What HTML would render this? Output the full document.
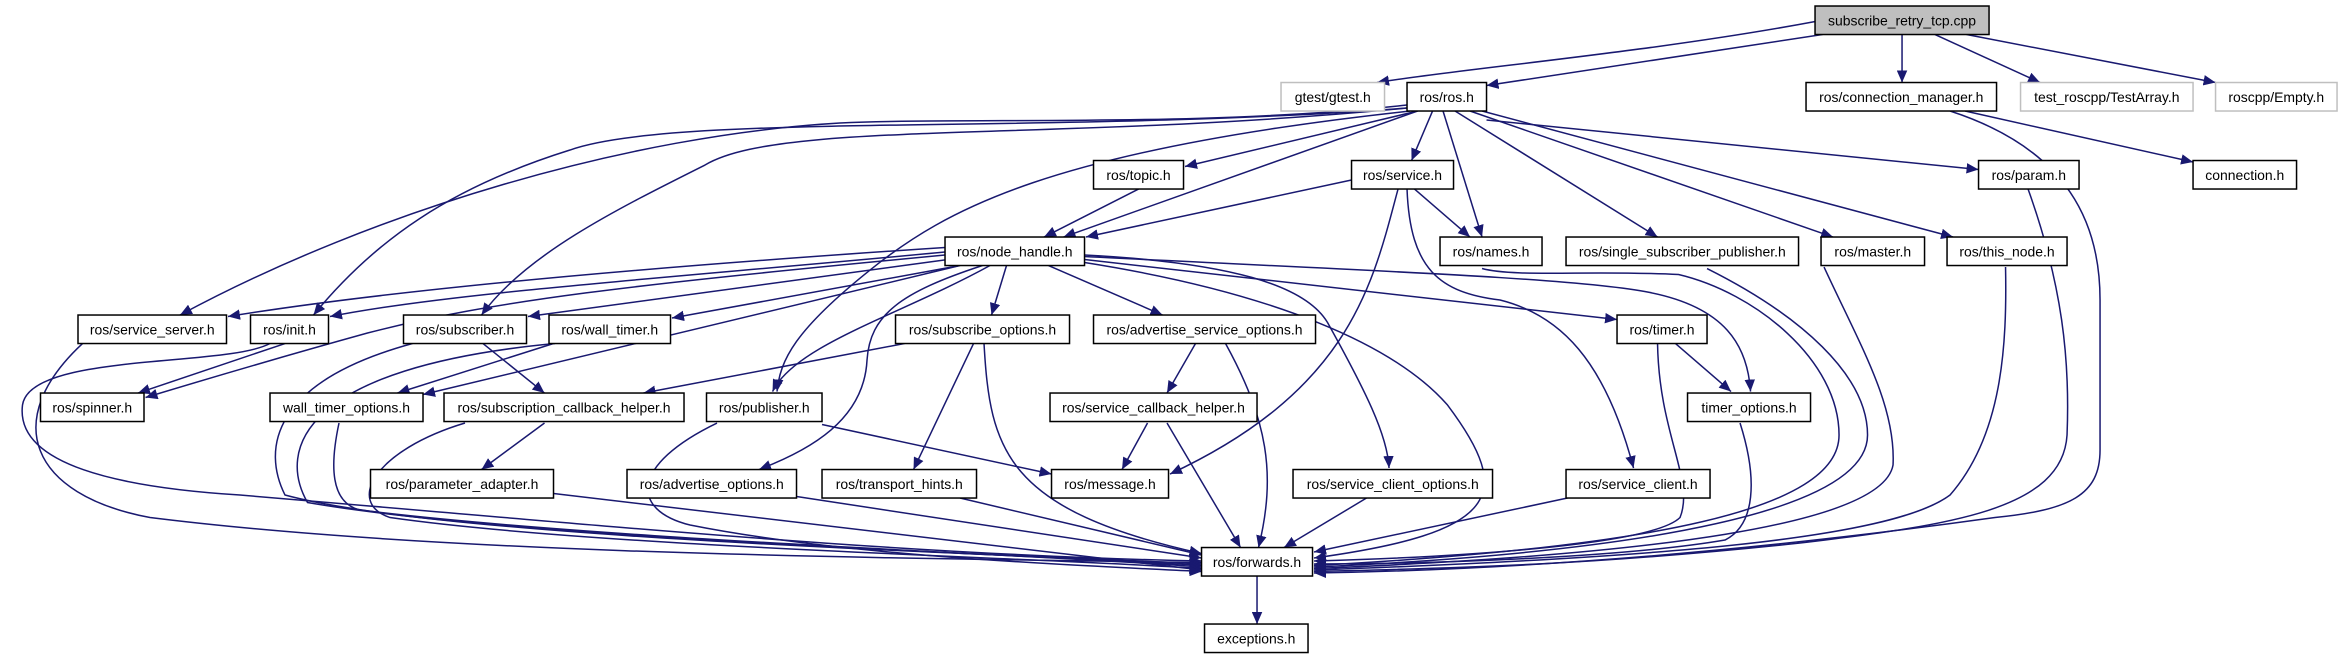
<!DOCTYPE html>
<html><head><meta charset="utf-8"><style>
html,body{margin:0;padding:0;background:#fff;}
svg{display:block}
text{font-family:"Liberation Sans",sans-serif;font-size:9.3px;text-anchor:middle;fill:#000}
.e{fill:none;stroke:#191970;stroke-width:1}
.n{fill:#fff;stroke:#000;stroke-width:1}
.g{fill:#fff;stroke:#bfbfbf;stroke-width:1}
</style></head><body>
<svg width="2342" height="659" viewBox="0 0 1561.3 439.3" xmlns="http://www.w3.org/2000/svg">
<defs><marker id="a" markerUnits="userSpaceOnUse" markerWidth="9" markerHeight="7" refX="8" refY="3.5" orient="auto"><polygon points="0,0 8,3.5 0,7" fill="#191970"/></marker></defs>
<g class="e" marker-end="url(#a)">
<path d="M1212,14 C1100,35 980,45 918,55"/>
<path d="M1215,23 L991,57"/>
<path d="M1268,23 L1268,55"/>
<path d="M1290,23 L1360,55"/>
<path d="M1311,23 L1477,55"/>
<path d="M945,74 L790,111"/>
<path d="M955,74 L941,107"/>
<path d="M962,74 L988,158"/>
<path d="M943,126 L980,158"/>
<path d="M970,74 L1105,158"/>
<path d="M980,74 L1222,158"/>
<path d="M988,74 L1302,158"/>
<path d="M991,80 L1319,113"/>
<path d="M945,74 L709,158"/>
<path d="M901,120 L724,158"/>
<path d="M759,126 L696,158"/>
<path d="M1310,74 L1462,108"/>
<path d="M938,70 C800,85 650,78 560,82 C420,90 250,140 120,210"/>
<path d="M938,72 C700,90 450,75 380,100 C300,125 250,160 209,210"/>
<path d="M938,72 C700,95 520,80 470,110 C410,140 350,170 321,210"/>
<path d="M940,74 C700,100 630,140 580,180 C530,220 520,240 518,261"/>
<path d="M630,165 C400,180 250,195 152,211"/>
<path d="M630,168 C450,185 300,195 220,211"/>
<path d="M632,173 L352,211"/>
<path d="M640,177 L448,212"/>
<path d="M630,170 C420,190 330,200 245,222 C180,240 130,255 97,265"/>
<path d="M640,177 L282,263"/>
<path d="M660,177 C600,210 530,230 515,261"/>
<path d="M671,177 L661,210"/>
<path d="M699,177 L775,210"/>
<path d="M655,177 C600,195 580,210 578,240 C576,280 540,300 506,313"/>
<path d="M723,170 C820,175 870,190 885,215 C910,260 925,290 926,312"/>
<path d="M723,171 C900,180 1050,185 1100,195 C1150,205 1165,230 1167,261"/>
<path d="M723,173 L1078,213"/>
<path d="M932,126 C915,190 900,260 780,316"/>
<path d="M938,126 C940,180 960,195 1000,200 C1040,210 1070,240 1089,312"/>
<path d="M190,229 L92,262"/>
<path d="M322,229 L363,262"/>
<path d="M369,229 L265,262"/>
<path d="M603,229 L429,262"/>
<path d="M649,229 L609,313"/>
<path d="M797,229 L778,262"/>
<path d="M363,282 L321,313"/>
<path d="M548,283 L701,316"/>
<path d="M765,282 L748,313"/>
<path d="M1117,229 L1154,261"/>
<path d="M838,384 L838,416"/>
<path d="M55,229 C0,280 20,330 100,345 C300,370 600,372 801,375"/>
<path d="M180,229 C150,245 20,235 15,270 C10,310 80,325 160,330 C400,350 600,370 801,374"/>
<path d="M275,229 C180,255 175,300 190,330 C300,360 700,370 801,376"/>
<path d="M370,229 C200,245 185,300 205,335 C350,360 700,370 801,377"/>
<path d="M226,282 C220,310 220,335 240,340 C400,360 700,370 801,378"/>
<path d="M310,282 C250,300 230,335 260,345 C400,365 700,372 801,379"/>
<path d="M369,329 L801,380"/>
<path d="M478,282 C420,310 420,340 460,350 C560,370 700,376 801,381"/>
<path d="M531,331 L801,372"/>
<path d="M640,332 L801,370"/>
<path d="M656,229 C660,300 670,340 801,369"/>
<path d="M778,282 L827,365"/>
<path d="M817,229 C845,280 851,316 839,365"/>
<path d="M911,332 L856,365"/>
<path d="M1045,332 L876,368"/>
<path d="M723,175 C850,195 930,230 965,270 C1010,330 1000,355 876,372"/>
<path d="M1105,229 C1106,290 1130,320 1120,345 C1100,365 950,372 876,374"/>
<path d="M1160,282 C1172,320 1170,350 1150,360 C1080,372 950,376 876,376"/>
<path d="M988,179 C1010,185 1060,180 1119,183 C1170,195 1226,240 1226,290 C1226,340 1100,365 876,377"/>
<path d="M1138,179 C1200,210 1245,250 1245,290 C1245,340 1100,368 876,378"/>
<path d="M1216,178 C1240,230 1264,270 1262,310 C1255,350 1100,370 876,379"/>
<path d="M1337,178 C1338,230 1335,290 1300,330 C1260,360 1100,372 876,380"/>
<path d="M1352,126 C1375,190 1380,240 1378,290 C1375,340 1300,350 1200,362 C1050,378 950,379 876,381"/>
<path d="M1300,74 C1380,100 1400,150 1400,200 L1400,300 C1400,330 1380,340 1330,345 C1150,370 1000,380 876,382"/>
</g>
<g>
<rect class="n" x="1210" y="4" width="116" height="19" style="fill:#bfbfbf"/><text x="1268" y="17">subscribe_retry_tcp.cpp</text>
<rect class="g" x="854" y="55" width="69" height="19"/><text x="888.5" y="68">gtest/gtest.h</text>
<rect class="n" x="938" y="55" width="53" height="19"/><text x="964.5" y="68">ros/ros.h</text>
<rect class="n" x="1204" y="55" width="127" height="19"/><text x="1267.5" y="68">ros/connection_manager.h</text>
<rect class="g" x="1347" y="55" width="115" height="19"/><text x="1404.5" y="68">test_roscpp/TestArray.h</text>
<rect class="g" x="1477" y="55" width="81" height="19"/><text x="1517.5" y="68">roscpp/Empty.h</text>
<rect class="n" x="729" y="107" width="60" height="19"/><text x="759" y="120">ros/topic.h</text>
<rect class="n" x="901" y="107" width="68" height="19"/><text x="935" y="120">ros/service.h</text>
<rect class="n" x="1319" y="107" width="67" height="19"/><text x="1352.5" y="120">ros/param.h</text>
<rect class="n" x="1462" y="107" width="69" height="19"/><text x="1496.5" y="120">connection.h</text>
<rect class="n" x="630" y="158" width="93" height="19"/><text x="676.5" y="171">ros/node_handle.h</text>
<rect class="n" x="960" y="158" width="68" height="19"/><text x="994" y="171">ros/names.h</text>
<rect class="n" x="1044" y="158" width="155" height="19"/><text x="1121.5" y="171">ros/single_subscriber_publisher.h</text>
<rect class="n" x="1214" y="158" width="69" height="19"/><text x="1248.5" y="171">ros/master.h</text>
<rect class="n" x="1298" y="158" width="80" height="19"/><text x="1338" y="171">ros/this_node.h</text>
<rect class="n" x="52" y="210" width="99" height="19"/><text x="101.5" y="223">ros/service_server.h</text>
<rect class="n" x="167" y="210" width="52" height="19"/><text x="193" y="223">ros/init.h</text>
<rect class="n" x="269" y="210" width="82" height="19"/><text x="310" y="223">ros/subscriber.h</text>
<rect class="n" x="366" y="210" width="81" height="19"/><text x="406.5" y="223">ros/wall_timer.h</text>
<rect class="n" x="597" y="210" width="116" height="19"/><text x="655" y="223">ros/subscribe_options.h</text>
<rect class="n" x="729" y="210" width="148" height="19"/><text x="803" y="223">ros/advertise_service_options.h</text>
<rect class="n" x="1078" y="210" width="60" height="19"/><text x="1108" y="223">ros/timer.h</text>
<rect class="n" x="27" y="262" width="69" height="19"/><text x="61.5" y="275">ros/spinner.h</text>
<rect class="n" x="180" y="262" width="102" height="19"/><text x="231" y="275">wall_timer_options.h</text>
<rect class="n" x="296" y="262" width="160" height="19"/><text x="376" y="275">ros/subscription_callback_helper.h</text>
<rect class="n" x="471" y="262" width="77" height="19"/><text x="509.5" y="275">ros/publisher.h</text>
<rect class="n" x="700" y="262" width="138" height="19"/><text x="769" y="275">ros/service_callback_helper.h</text>
<rect class="n" x="1125" y="262" width="82" height="19"/><text x="1166" y="275">timer_options.h</text>
<rect class="n" x="247" y="313" width="122" height="19"/><text x="308" y="326">ros/parameter_adapter.h</text>
<rect class="n" x="418" y="313" width="113" height="19"/><text x="474.5" y="326">ros/advertise_options.h</text>
<rect class="n" x="548" y="313" width="103" height="19"/><text x="599.5" y="326">ros/transport_hints.h</text>
<rect class="n" x="701" y="313" width="78" height="19"/><text x="740" y="326">ros/message.h</text>
<rect class="n" x="862" y="313" width="133" height="19"/><text x="928.5" y="326">ros/service_client_options.h</text>
<rect class="n" x="1044" y="313" width="96" height="19"/><text x="1092" y="326">ros/service_client.h</text>
<rect class="n" x="801" y="365" width="74" height="19"/><text x="838" y="378">ros/forwards.h</text>
<rect class="n" x="803" y="416" width="69" height="19"/><text x="837.5" y="429">exceptions.h</text>
</g>
</svg>
</body></html>
